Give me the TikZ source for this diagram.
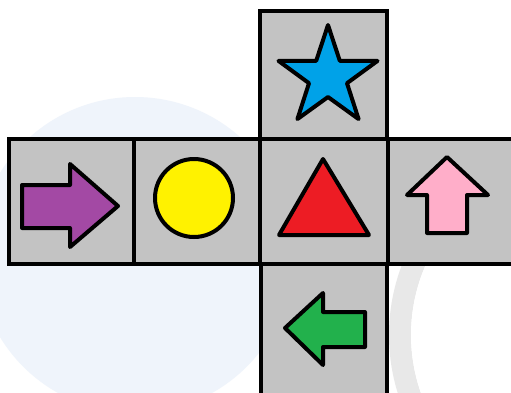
\documentclass[tikz,border=0pt]{standalone}
\begin{document}
\begin{tikzpicture}[x=1pt,y=-1pt,
  face/.style={draw=black,line width=4pt,fill=facegray},
  shapeline/.style={draw=black,line width=4pt,line join=round}]
\definecolor{facegray}{HTML}{C3C3C3}
\definecolor{wmblue}{HTML}{EFF4FB}
\definecolor{wmgray}{HTML}{E8E8E8}
\definecolor{cpurple}{HTML}{A349A4}
\definecolor{cyellow}{HTML}{FFF200}
\definecolor{cblue}{HTML}{00A2E8}
\definecolor{cred}{HTML}{ED1C24}
\definecolor{cpink}{HTML}{FFAEC9}
\definecolor{cgreen}{HTML}{22B14C}
\useasboundingbox (0,0) rectangle (511,392);
\fill[white] (0,0) rectangle (511,392);
% faint watermark
\begin{scope}
\clip (0,0) rectangle (511,392);
\fill[wmblue] (135,255) circle[radius=158];
\draw[wmgray,line width=22pt] (585,335) circle[radius=185];
\fill[white] (585,335) circle[radius=174];
\end{scope}
% faces
\draw[face] (9,139) rectangle (134,264);
\draw[face] (134,139) rectangle (260,264);
\draw[face] (260,139) rectangle (388,264);
\draw[face] (388,139) rectangle (516,264);
\draw[face] (260,11) rectangle (387,139);
\draw[face] (261,264) rectangle (387,396);
% purple right arrow
\draw[shapeline,fill=cpurple] (22,185) -- (70,185) -- (70,164) -- (118,206) -- (70,247) -- (70,228) -- (22,228) -- cycle;
% yellow circle
\draw[shapeline,fill=cyellow] (194,198) circle[radius=39];
% blue star
\draw[shapeline,fill=cblue] (328,25) -- (339.8,60.8) -- (377.5,60.9) -- (347,83.2) -- (358.6,119.1) -- (328,97) -- (297.4,119.1) -- (309,83.2) -- (278.5,60.9) -- (316.2,60.8) -- cycle;
% red triangle
\draw[shapeline,fill=cred] (323,159) -- (369,235) -- (279,235) -- cycle;
% pink up arrow
\draw[shapeline,fill=cpink] (447,157) -- (488,195) -- (467,195) -- (467,233) -- (427,233) -- (427,195) -- (407,195) -- cycle;
% green left arrow
\draw[shapeline,fill=cgreen] (285,328) -- (323,293) -- (323,312) -- (365,312) -- (365,347) -- (323,347) -- (323,365) -- cycle;
\end{tikzpicture}
\end{document}
